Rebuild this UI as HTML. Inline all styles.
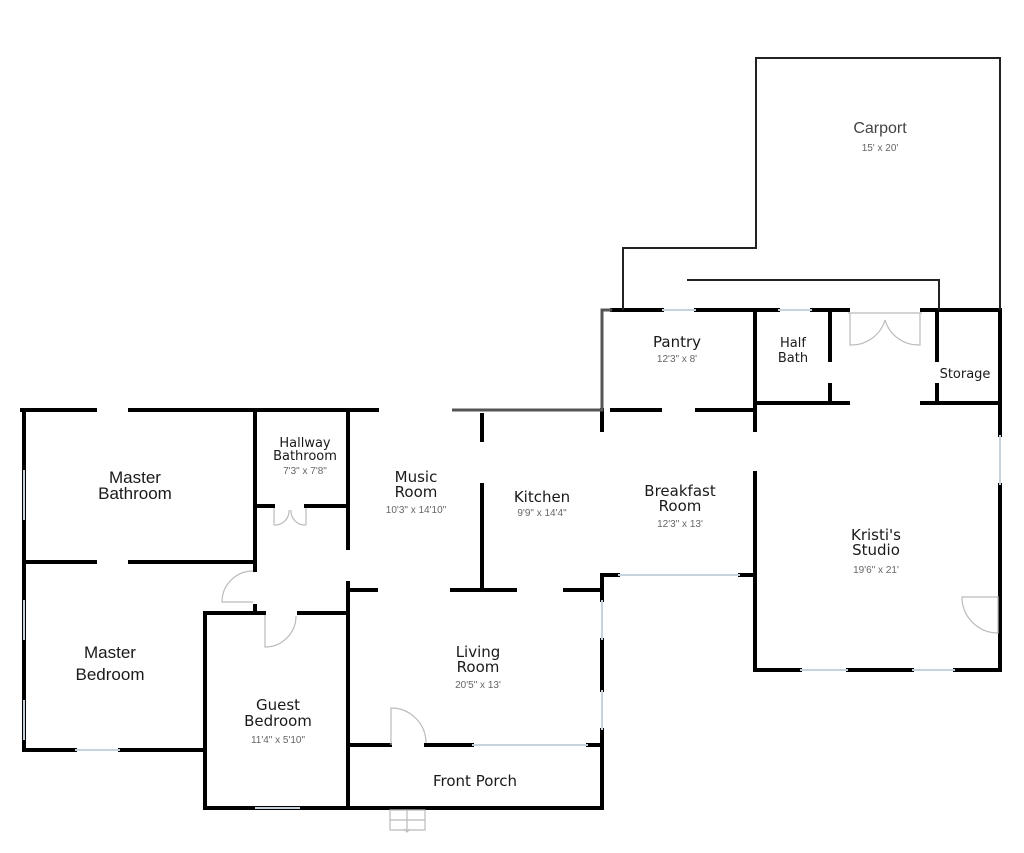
<!DOCTYPE html>
<html><head><meta charset="utf-8"><style>
html,body{margin:0;padding:0;background:#fff;}
svg{display:block;}
text{font-family:"DejaVu Sans","Liberation Sans",sans-serif;text-anchor:middle;}
.l{font-size:15px;fill:#1a1a1a;}
.a{font-family:"Liberation Sans",sans-serif;font-size:17px;}
.s{font-size:10px;fill:#666;font-family:"Liberation Sans",sans-serif;}
</style></head><body>
<svg width="1024" height="853" viewBox="0 0 1024 853" xmlns="http://www.w3.org/2000/svg">
<g stroke="#000" stroke-width="4" fill="none" stroke-linecap="square">
<path d="M22 410H95M130 410H377"/>
<path d="M24 410V750"/>
<path d="M24 562H95M130 562H253"/>
<path d="M24 750H75M120 750H205"/>
<path d="M255 410V570M255 606V613"/>
<path d="M348 410V548M348 583V808"/>
<path d="M257 506H273M306 506H348"/>
<path d="M205 613H264M299 613H348"/>
<path d="M205 613V808H602"/>
<path d="M348 590H376M452 590H515M565 590H602"/>
<path d="M482 415V440M482 485V590"/>
<path d="M602 575V600M602 640V690M602 730V808"/>
<path d="M350 745H390M426 745H472M588 745H602"/>
<path d="M602 410V430"/>
<path d="M612 310H662M696 310H755"/>
<path d="M612 410H660M697 410H755"/>
<path d="M755 310V430M755 473V670H800M848 670H912M955 670H1000"/>
<path d="M755 310H778M812 310H848"/>
<path d="M830 310V360M830 385V403"/>
<path d="M755 403H848M922 403H1000"/>
<path d="M922 310H1000"/>
<path d="M937 310V360M937 385V403"/>
<path d="M1000 310V435M1000 485V670"/>
<path d="M604 575H618M740 575H755"/>
</g>
<g stroke="#555" stroke-width="3" fill="none">
<path d="M452 410H602V310H612"/>
</g>
<g stroke="#222" stroke-width="2" fill="none">
<path d="M623 310V248H756V58H1000V310"/>
<path d="M687 280H939V310"/>
</g>
<g stroke="#c7d3dc" stroke-width="2" fill="none">
<path d="M472 745H588M75 750H120M24 470V520M24 600V640M24 700V740M662 310H696M778 310H812M618 575H740M1000 435V485M602 600V640M602 690V730M800 670H848M912 670H955M255 808H300"/>
</g>
<g stroke="#bbb" stroke-width="1.2" fill="none">
<path d="M848 313H922M850 313V345A35 35 0 0 0 885 320M920 313V345A35 35 0 0 1 885 320"/>
<path d="M274 508V525M306 508V525M274 525A14 14 0 0 0 289 510M306 525A14 14 0 0 1 291 510"/>
<path d="M253 602H222A31 31 0 0 1 253 571"/>
<path d="M265 615V647A31 31 0 0 0 296 616"/>
<path d="M391 745V708A35 35 0 0 1 426 743"/>
<path d="M998 597H962A36 36 0 0 0 998 633Z"/>
<path d="M390 810H425V830H390ZM407 810V830M390 820H425M404 829L407 832L410 829"/>
</g>
<text class="l a" x="880" y="133" style="font-size:16px;fill:#444">Carport</text><text class="s" x="880" y="151">15' x 20'</text>
<text class="l" x="677" y="347">Pantry</text><text class="s" x="677" y="362">12'3" x 8'</text>
<text class="l" x="793" y="347" style="font-size:13px">Half</text><text class="l" x="793" y="362" style="font-size:13px">Bath</text>
<text class="l" x="965" y="378" style="font-size:13px">Storage</text>
<text class="l" x="305" y="447" style="font-size:13px">Hallway</text><text class="l" x="305" y="460" style="font-size:13px">Bathroom</text><text class="s" x="305" y="474">7'3" x 7'8"</text>
<text class="l a" x="135" y="483">Master</text><text class="l a" x="135" y="499">Bathroom</text>
<text class="l" x="416" y="482">Music</text><text class="l" x="416" y="497">Room</text><text class="s" x="416" y="513">10'3" x 14'10"</text>
<text class="l" x="542" y="502">Kitchen</text><text class="s" x="542" y="516">9'9" x 14'4"</text>
<text class="l" x="680" y="496">Breakfast</text><text class="l" x="680" y="511">Room</text><text class="s" x="680" y="527">12'3" x 13'</text>
<text class="l" x="876" y="540">Kristi's</text><text class="l" x="876" y="555">Studio</text><text class="s" x="876" y="573">19'6" x 21'</text>
<text class="l a" x="110" y="658">Master</text><text class="l a" x="110" y="680">Bedroom</text>
<text class="l" x="478" y="657">Living</text><text class="l" x="478" y="672">Room</text><text class="s" x="478" y="688">20'5" x 13'</text>
<text class="l" x="278" y="710">Guest</text><text class="l" x="278" y="726">Bedroom</text><text class="s" x="278" y="743">11'4" x 5'10"</text>
<text class="l" x="475" y="786">Front Porch</text>
</svg>
</body></html>
